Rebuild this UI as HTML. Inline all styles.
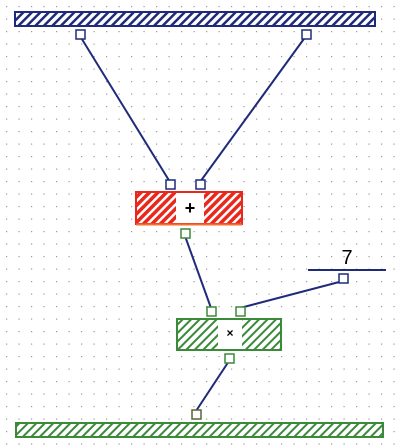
<!DOCTYPE html>
<html><head><style>body{margin:0;background:#fff}svg{display:block}</style></head><body>
<svg width="400" height="448">
<defs>
<pattern id="dots" width="12.5" height="12.5" patternUnits="userSpaceOnUse"><rect x="6" y="6" width="1.2" height="1.2" fill="#999"/></pattern>
<pattern id="hb" width="6" height="6" patternUnits="userSpaceOnUse" patternTransform="rotate(45)"><rect width="6" height="6" fill="#fff"/><rect width="2.5" height="6" fill="#1f2a7a"/></pattern>
<pattern id="hr" width="6" height="6" patternUnits="userSpaceOnUse" patternTransform="rotate(45)"><rect width="6" height="6" fill="#fff"/><rect width="3.5" height="6" fill="#e8281c"/></pattern>
<pattern id="hg" width="6" height="6" patternUnits="userSpaceOnUse" patternTransform="rotate(45)"><rect width="6" height="6" fill="#fff"/><rect width="2" height="6" fill="#3a8a3a"/></pattern>
</defs>
<rect width="400" height="448" fill="url(#dots)"/>
<g stroke="#1f2a7a" stroke-width="2" fill="none">
<line x1="80" y1="36" x2="170" y2="182"/><line x1="306" y1="36" x2="200" y2="182"/>
<line x1="185" y1="236" x2="211" y2="308"/><line x1="343" y1="281" x2="240" y2="308"/>
<line x1="229" y1="361" x2="196" y2="411"/>
</g>
<rect x="15" y="12" width="360" height="14" fill="url(#hb)" stroke="#1f2a7a" stroke-width="2"/>
<rect x="136" y="192" width="106" height="32" fill="url(#hr)" stroke="#e8281c" stroke-width="2"/>
<rect x="176" y="193" width="28" height="30" fill="#fff"/>
<line x1="136" y1="224.5" x2="242" y2="224.5" stroke="#f07030" stroke-width="2"/>
<text x="190" y="214" font-family="Liberation Sans,sans-serif" font-weight="bold" font-size="18" text-anchor="middle">+</text>
<rect x="177" y="319" width="104" height="31" fill="url(#hg)" stroke="#3a8a3a" stroke-width="2"/>
<rect x="218" y="320" width="24" height="29" fill="#fff"/>
<text x="230" y="337" font-family="Liberation Sans,sans-serif" font-weight="bold" font-size="12" text-anchor="middle">×</text>
<rect x="16" y="423" width="367" height="14" fill="url(#hg)" stroke="#3a8a3a" stroke-width="2"/>
<line x1="308" y1="270" x2="386" y2="270" stroke="#1f2a7a" stroke-width="2"/>
<text x="347" y="264" font-family="Liberation Sans,sans-serif" font-size="20" text-anchor="middle">7</text>
<g fill="#fff" stroke-width="1.5">
<rect x="76" y="30" width="9" height="9" stroke="#1f2a7a"/>
<rect x="302" y="30" width="9" height="9" stroke="#1f2a7a"/>
<rect x="166" y="180" width="9" height="9" stroke="#1f2a7a"/>
<rect x="196" y="180" width="9" height="9" stroke="#1f2a7a"/>
<rect x="181" y="229" width="9" height="9" stroke="#3a8a3a"/>
<rect x="207" y="307" width="9" height="9" stroke="#3a8a3a"/>
<rect x="236" y="307" width="9" height="9" stroke="#3a8a3a"/>
<rect x="339" y="274" width="9" height="9" stroke="#1f2a7a"/>
<rect x="225" y="354" width="9" height="9" stroke="#3a8a3a"/>
<rect x="192" y="410" width="9" height="9" stroke="#556633"/>
</g>
</svg>
</body></html>
